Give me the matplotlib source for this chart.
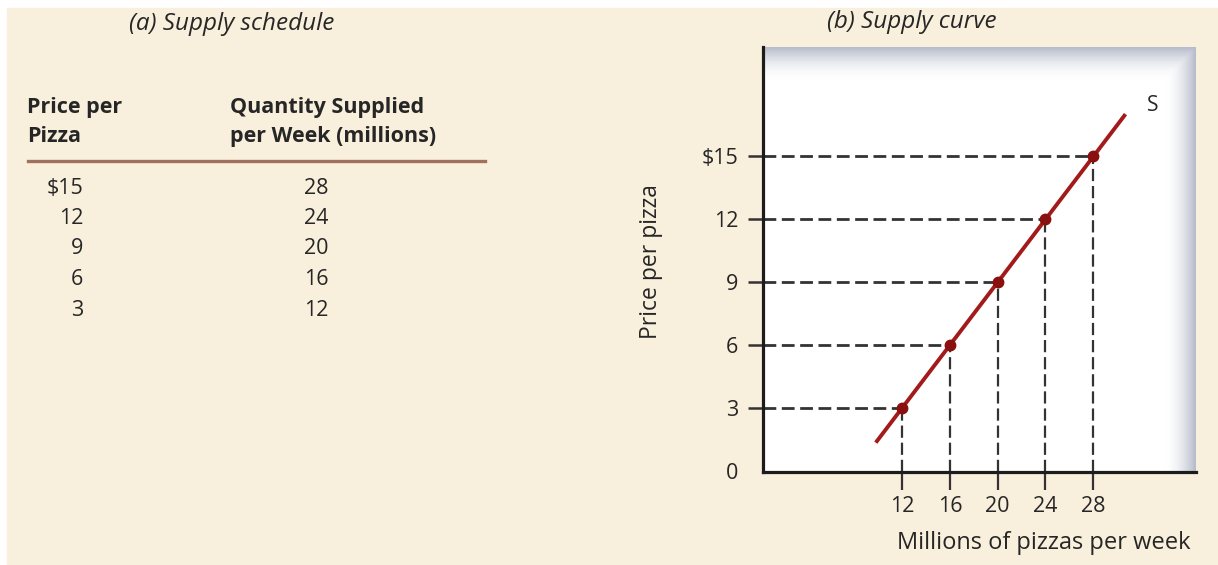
import numpy as np
import matplotlib.pyplot as plt
from matplotlib.patches import Rectangle

# supply schedule
price = [15, 12, 9, 6, 3]
quantity = [28, 24, 20, 16, 12]
price_labels = ['$15', '12', '9', '6', '3']

y_ticks = [0, 3, 6, 9, 12, 15]
y_tick_labels = ['0', '3', '6', '9', '12', '$15']
x_ticks = [12, 16, 20, 24, 28]

# the drawn supply line runs a little past the schedule points
curve_q = [9.8, 30.7]
curve_p = [1.35, 17.0]

plt.rcParams['font.family'] = ['Open Sans', 'DejaVu Sans']

W, H = 1218, 565
fig = plt.figure(figsize=(W / 100, H / 100), dpi=100)
fig.patch.set_facecolor('white')

txt = '#262626'

# background + table, in pixel coords
bg = fig.add_axes([0, 0, 1, 1])
bg.set_xlim(0, W)
bg.set_ylim(H, 0)
bg.axis('off')
bg.add_patch(Rectangle((7, 8), W, H, color='#f8efdc', zorder=0))

bg.text(232, 24, '(a) Supply schedule', style='italic', fontsize=17.5,
        ha='center', va='center', color=txt)
bg.text(27, 122, 'Price per\nPizza', fontweight='bold', fontsize=15.5,
        ha='left', va='center', linespacing=1.5, color=txt)
bg.text(230, 122, 'Quantity Supplied\nper Week (millions)', fontweight='bold',
        fontsize=15.5, ha='left', va='center', linespacing=1.5, color=txt)
bg.plot([28, 485], [161, 161], color='#a0715f', lw=2.4)

row_y = 188 + 30.5 * np.arange(len(price))
for y, p, q in zip(row_y, price_labels, quantity):
    bg.text(83, y, p, ha='right', va='center', fontsize=15.5, color=txt)
    bg.text(316, y, str(q), ha='center', va='center', fontsize=15.5, color=txt)

# supply curve panel
ax = fig.add_axes([763 / W, (H - 472) / H, (1196 - 763) / W, (472 - 47) / H])
ax.set_xlim(0.36, 36.6)
ax.set_ylim(-0.05, 20.2)
ax.patch.set_alpha(0)

# shaded top and right edges
n = 300
yy = np.linspace(0, 1, n)[:, None] * np.ones((1, n))
xx = np.linspace(0, 1, n)[None, :] * np.ones((n, 1))
top = np.clip((yy - 0.925) / 0.075, 0, 1) ** 1.8
right = np.clip((xx - 0.93) / 0.07, 0, 1) ** 1.8
s = np.maximum(top, right)[..., None]
edge = np.array([0.72, 0.74, 0.80])
img = (1 - s) * np.ones(3) + s * edge
ax.imshow(img, origin='lower', extent=(0, 1, 0, 1), transform=ax.transAxes,
          aspect='auto', zorder=0)

for sp in ['top', 'right']:
    ax.spines[sp].set_visible(False)
for sp in ['left', 'bottom']:
    ax.spines[sp].set_color('#1c1c1c')
    ax.spines[sp].set_linewidth(2.3)
    ax.spines[sp].set_zorder(5)

x0 = ax.get_xlim()[0]
y0 = ax.get_ylim()[0]
for q, p in zip(quantity, price):
    ax.plot([x0, q], [p, p], color='#333333', lw=2, dashes=(4.6, 2.0), zorder=2)
    ax.plot([q, q], [y0, p], color='#333333', lw=1.6, dashes=(5.5, 2.2), zorder=2)

ax.plot(curve_q, curve_p, color='#a31a1a', lw=2.8, solid_capstyle='butt', zorder=3)
ax.plot(quantity, price, 'o', color='#8a0f0f', ms=7.5, zorder=4)
ax.text(32.5, 17.4, 'S', fontsize=15, color=txt, ha='left', va='center')

ax.set_yticks(y_ticks)
ax.set_yticklabels(y_tick_labels)
ax.set_xticks(x_ticks)
ax.tick_params(axis='y', length=11, width=1.8, color='#333333', pad=7,
               labelsize=15.5, labelcolor=txt)
ax.tick_params(axis='x', length=13, width=1.6, color='#333333', pad=4,
               labelsize=15.5, labelcolor=txt)
ax.yaxis.get_major_ticks()[0].tick1line.set_visible(False)

ax.set_ylabel('Price per pizza', fontsize=16.5, color=txt)
ax.yaxis.set_label_coords((663 - 763) / 433, (472 - 262) / 425)
ax.set_xlabel('Millions of pizzas per week', fontsize=17, color=txt)
ax.xaxis.set_label_coords((1044 - 763) / 433, -(531 - 472) / 425)
ax.text((912 - 763) / 433, (472 - 22) / 425, '(b) Supply curve', style='italic',
        fontsize=17.5, ha='center', va='center', color=txt, transform=ax.transAxes)

fig.savefig('out.png', dpi=100, facecolor=fig.get_facecolor())
